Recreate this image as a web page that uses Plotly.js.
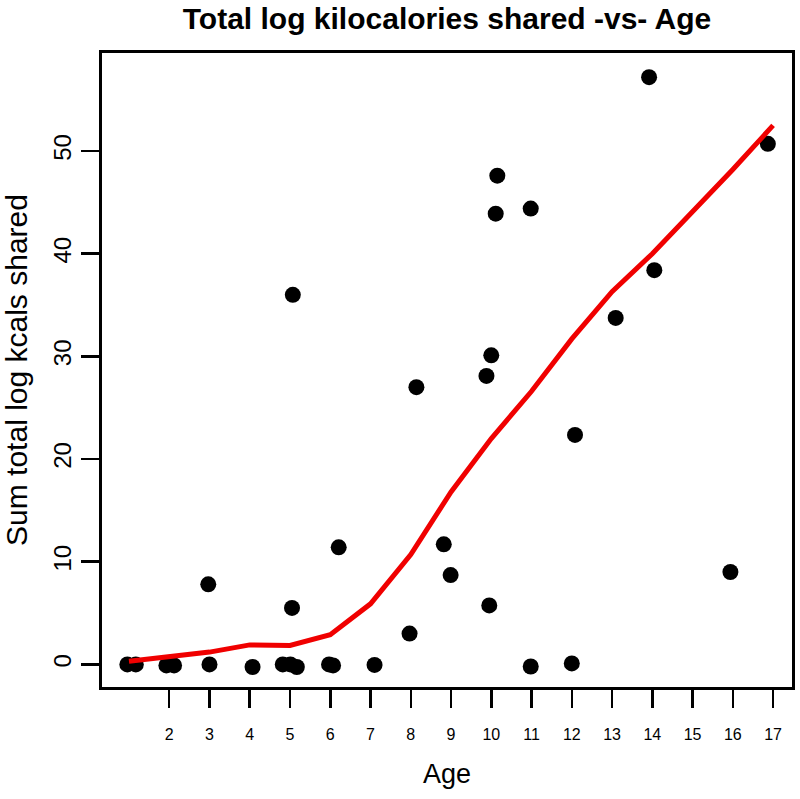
<!DOCTYPE html>
<html>
<head>
<meta charset="utf-8">
<script src="https://cdn.plot.ly/plotly-3.0.1.min.js"></script>
<style>html,body{margin:0;padding:0;background:#fff;}#chart{width:800px;height:799px;}</style>
</head>
<body>
<div id="chart"></div>
<script>
// Observed points: age vs sum total log kcals shared
var ageValues = [0.96, 1.17, 1.93, 2.12, 2.97, 3.0, 4.07, 4.82, 5.01, 5.17, 5.05, 5.07,
                 5.97, 6.07, 6.21, 7.1, 7.97, 8.14, 8.82, 8.99, 9.88, 9.95, 10.0, 10.11,
                 10.15, 10.98, 10.98, 12.0, 12.08, 13.09, 13.92, 14.05, 15.94, 16.87];
var kcalValues = [0, 0, -0.1, -0.1, 7.8, 0, -0.25, 0, 0, -0.25, 5.5, 36.0,
                  0, -0.1, 11.4, -0.05, 3.0, 27.0, 11.7, 8.7, 28.1, 5.75, 30.1, 43.9,
                  47.6, 44.4, -0.2, 0.1, 22.35, 33.75, 57.2, 38.4, 9.0, 50.7];
// Smoothed trend line
var smoothAge = [1, 2, 3, 4, 5, 6, 7, 8, 9, 10, 11, 12, 13, 14, 15, 16, 17];
var smoothKcal = [0.3, 0.8, 1.2, 1.9, 1.85, 2.9, 5.9, 10.7, 16.8, 22.0, 26.6, 31.7, 36.3, 40.0, 44.1, 48.2, 52.5];
// Tick labels
var xTickVals = [2, 3, 4, 5, 6, 7, 8, 9, 10, 11, 12, 13, 14, 15, 16, 17];
var yTickVals = [0, 10, 20, 30, 40, 50];

var FONT = 'Liberation Sans, Arial, Helvetica, sans-serif';

var traces = [
  {
    x: ageValues, y: kcalValues, type: 'scatter', mode: 'markers',
    marker: {color: 'black', size: 16, line: {width: 0}},
    hoverinfo: 'x+y', showlegend: false
  },
  {
    x: smoothAge, y: smoothKcal, type: 'scatter', mode: 'lines',
    line: {color: 'rgb(240,0,0)', width: 5},
    showlegend: false
  }
];

var layout = {
  width: 800, height: 799,
  margin: {l: 102, r: 8, t: 53, b: 112},
  paper_bgcolor: 'white', plot_bgcolor: 'white',
  font: {family: FONT, color: 'black'},
  title: {
    text: '<b>Total log kilocalories shared -vs- Age</b>',
    font: {family: FONT, size: 30, color: 'black'},
    x: 0.5, xref: 'paper', xanchor: 'center',
    y: 1 - 18/799, yref: 'container', yanchor: 'middle'
  },
  xaxis: {
    range: [0.33, 17.47],
    tickvals: xTickVals, ticktext: xTickVals.map(String),
    ticks: 'outside', ticklen: 18, tickwidth: 2.5, tickcolor: 'black',
    tickfont: {family: FONT, size: 16, color: 'black'},
    ticklabelstandoff: 13,
    showline: true, linewidth: 3, linecolor: 'black', mirror: true,
    showgrid: false, zeroline: false,
    title: {text: 'Age', font: {family: FONT, size: 27, color: 'black'}, standoff: 22}
  },
  yaxis: {
    range: [-2.2, 59.55],
    tickvals: yTickVals, ticktext: yTickVals.map(String),
    ticks: 'outside', ticklen: 18, tickwidth: 2.5, tickcolor: 'black',
    tickangle: -90,
    tickfont: {family: FONT, size: 24, color: 'black'},
    ticklabelstandoff: 0,
    showline: true, linewidth: 3, linecolor: 'black', mirror: true,
    showgrid: false, zeroline: false,
    title: {text: 'Sum total log kcals shared', font: {family: FONT, size: 30, color: 'black'}, standoff: 14}
  }
};

Plotly.newPlot('chart', traces, layout, {displayModeBar: false, staticPlot: true});
</script>
</body>
</html>
